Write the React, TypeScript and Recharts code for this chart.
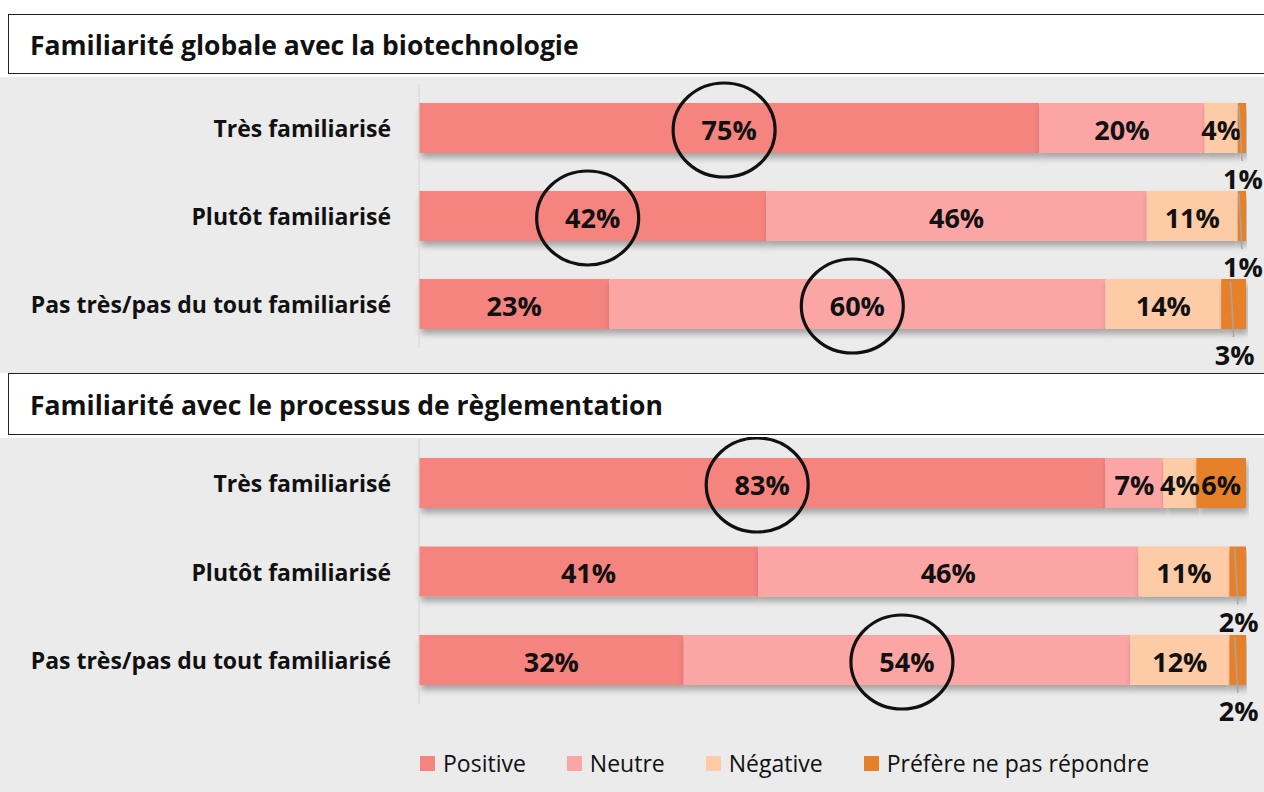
import * as React from "react"
import { Bar, BarChart, LabelList, XAxis, YAxis } from "recharts"

const categories = ["Très familiarisé", "Plutôt familiarisé", "Pas très/pas du tout familiarisé"]

const seriesKeys = ["positive", "neutre", "negative", "nsp"]
const seriesNames = ["Positive", "Neutre", "Négative", "Préfère ne pas répondre"]
const seriesColors = ["#f5837e", "#fba5a4", "#fdcca7", "#e6812a"]

// Familiarité globale avec la biotechnologie
const bioPositive = [75, 42, 23]
const bioNeutre = [20, 46, 60]
const bioNegative = [4, 11, 14]
const bioNsp = [1, 1, 3]
const bioCircled = ["positive", "positive", "neutre"]

// Familiarité avec le processus de règlementation
const regPositive = [83, 41, 32]
const regNeutre = [7, 46, 54]
const regNegative = [4, 11, 12]
const regNsp = [6, 2, 2]
const regCircled = ["positive", "", "neutre"]

const FONT = "'Open Sans', sans-serif"

type Row = { label: string; positive: number; neutre: number; negative: number; nsp: number; circled: string }

function buildRows(p: number[], n: number[], neg: number[], nsp: number[], circled: string[]): Row[] {
  return categories.map((label, i) => ({
    label,
    positive: p[i],
    neutre: n[i],
    negative: neg[i],
    nsp: nsp[i],
    circled: circled[i],
  }))
}

const bioRows = buildRows(bioPositive, bioNeutre, bioNegative, bioNsp, bioCircled)
const regRows = buildRows(regPositive, regNeutre, regNegative, regNsp, regCircled)

function CategoryTick({ y, payload }: any) {
  return (
    <text
      x={391}
      y={y}
      textAnchor="end"
      dominantBaseline="central"
      fontFamily={FONT}
      fontWeight={700}
      fontSize={23}
      fill="#111"
    >
      {payload.value}
    </text>
  )
}

function makeLabel(key: string, rows: Row[]) {
  return function SegmentLabel(props: any) {
    const { x, y, width, height, value, index } = props
    const cx = Number(x) + Number(width) / 2
    const cy = Number(y) + Number(height) / 2
    const circled = rows[index]?.circled === key
    const outside = key === "nsp" && value <= 3
    if (outside) {
      const bottom = Number(y) + Number(height)
      return (
        <g>
          <line x1={cx - 3} y1={Number(y) + 2} x2={cx} y2={bottom + 8} stroke="#a6a6a6" strokeWidth={1.5} />
          <text
            x={cx + 1}
            y={bottom + 25}
            textAnchor="middle"
            dominantBaseline="central"
            fontFamily={FONT}
            fontWeight={700}
            fontSize={27}
            fill="#111"
          >
            {value}%
          </text>
        </g>
      )
    }
    return (
      <g>
        <text
          x={cx}
          y={cy + 1}
          textAnchor="middle"
          dominantBaseline="central"
          fontFamily={FONT}
          fontWeight={700}
          fontSize={27}
          fill="#111"
        >
          {value}%
        </text>
        {circled && <ellipse cx={cx - 5} cy={cy + 2} rx={51} ry={47} fill="none" stroke="#111" strokeWidth={3.2} />}
      </g>
    )
  }
}

function StackedChart({ rows, height, margin, id }: { rows: Row[]; height: number; margin: any; id: string }) {
  return (
    <BarChart width={1264} height={height} data={rows} layout="vertical" margin={margin}>
      <defs>
        <filter id={id} x="-5%" y="-30%" width="110%" height="180%">
          <feDropShadow dx={2} dy={5} stdDeviation={3} floodColor="#000" floodOpacity={0.3} />
        </filter>
      </defs>
      <XAxis type="number" domain={[0, 100]} hide />
      <YAxis
        type="category"
        dataKey="label"
        width={419}
        axisLine={{ stroke: "#d4d4d4" }}
        tickLine={false}
        tick={<CategoryTick />}
      />
      {seriesKeys.map((key, i) => (
        <Bar
          key={key}
          dataKey={key}
          stackId="a"
          barSize={50}
          fill={seriesColors[i]}
          isAnimationActive={false}
          shape={(p: any) => (
            <rect x={p.x} y={p.y} width={p.width} height={p.height} fill={seriesColors[i]} filter={`url(#${id})`} />
          )}
        >
          <LabelList dataKey={key} content={makeLabel(key, rows)} />
        </Bar>
      ))}
    </BarChart>
  )
}

function TitleBox({ top, height, text }: { top: number; height: number; text: string }) {
  return (
    <div style={{ position: "absolute", left: 0, top, width: 1264, height, background: "#fff", overflow: "hidden" }}>
      <div
        style={{
          position: "absolute",
          left: 8,
          top: 0,
          width: 1300,
          height: height - 3,
          border: "1.5px solid #222",
          boxSizing: "border-box",
          fontFamily: FONT,
          fontWeight: 700,
          fontSize: 26.5,
          lineHeight: `${height - 3}px`,
          paddingLeft: 21,
          color: "#111",
        }}
      >
        {text}
      </div>
    </div>
  )
}

export default function App() {
  return (
    <div
      style={{
        position: "absolute",
        left: 0,
        top: 0,
        width: 1264,
        height: 792,
        background: "#ebebeb",
        overflow: "hidden",
      }}
    >
      <div style={{ position: "absolute", left: 0, top: 0, width: 1264, height: 14, background: "#fff" }} />
      <TitleBox top={14} height={63} text="Familiarité globale avec la biotechnologie" />
      <div style={{ position: "absolute", left: 0, top: 76 }}>
        <StackedChart rows={bioRows} height={297} margin={{ top: 8, right: 18, bottom: 25, left: 0 }} id="shadowBio" />
      </div>
      <TitleBox top={373} height={65} text="Familiarité avec le processus de règlementation" />
      <div style={{ position: "absolute", left: 0, top: 437 }}>
        <StackedChart rows={regRows} height={355} margin={{ top: 2, right: 18, bottom: 87.5, left: 0 }} id="shadowReg" />
      </div>
      <div
        style={{
          position: "absolute",
          left: 420,
          top: 746,
          height: 34,
          display: "flex",
          alignItems: "center",
          fontFamily: FONT,
          fontSize: 23,
          color: "#111",
        }}
      >
        {seriesNames.map((name, i) => (
          <div key={name} style={{ display: "flex", alignItems: "center", marginRight: 41 }}>
            <span style={{ width: 15, height: 15, background: seriesColors[i], display: "inline-block", marginRight: 8 }} />
            <span>{name}</span>
          </div>
        ))}
      </div>
    </div>
  )
}
